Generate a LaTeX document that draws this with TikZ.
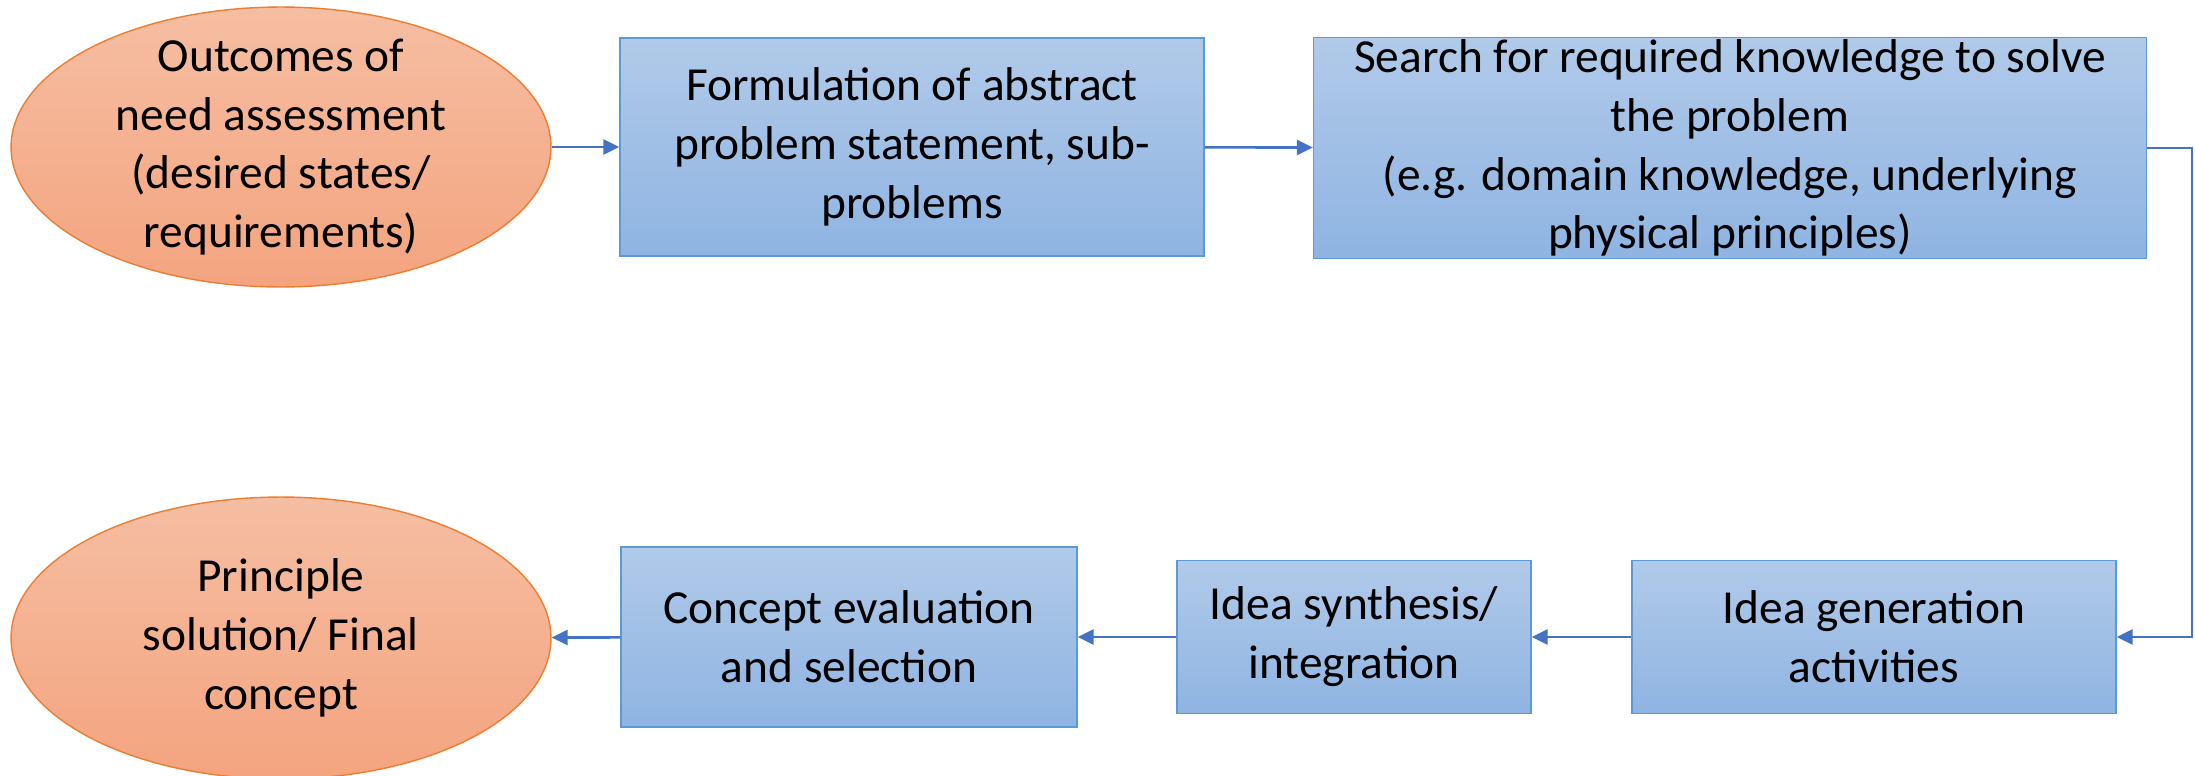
\documentclass[tikz,border=0pt]{standalone}
\usepackage{fontspec}
\setmainfont{Carlito}
\usetikzlibrary{shapes.geometric,arrows.meta}
\definecolor{goalfill}{HTML}{F5BEA2}
\definecolor{goalfillb}{HTML}{F4A47F}
\definecolor{goalline}{HTML}{ED7D31}
\definecolor{stepfill}{HTML}{B1CAE9}
\definecolor{stepfillb}{HTML}{8FB4E2}
\definecolor{stepline}{HTML}{5B9BD5}
\definecolor{flowline}{HTML}{4472C4}
\tikzset{
	goal/.style={ellipse, draw=goalline, line width=0.8pt,
		top color=goalfill, bottom color=goalfillb,
		inner sep=0pt, minimum width=10.8cm},
	stepbox/.style={rectangle, draw=stepline, line width=0.8pt,
		top color=stepfill, bottom color=stepfillb,
		inner sep=0pt, align=center},
	flow/.style={draw=flowline, line width=1.5pt,
		-{Triangle[length=0.32cm,width=0.3cm]}}
}
\begin{document}
\begin{tikzpicture}[x=0.02cm, y=-0.02cm,
		every node/.style={font=\fontsize{27}{33.5}\selectfont}]
		\useasboundingbox (0,0) rectangle (2195,775);
		% top row
		\node[goal, minimum height=5.6cm,
			label={[name=needtext, align=center]center:Outcomes of\\need assessment\\(desired states/\\requirements)}]
			(need) at (281,147) {};
		\node[stepbox, minimum width=11.68cm, minimum height=4.36cm] (formul) at (912,147)
			{Formulation of abstract\\problem statement, sub-\\problems};
		\node[stepbox, minimum width=16.66cm, minimum height=4.42cm] (search) at (1730,148)
			{Search for required knowledge to solve\\the problem\\(e.g. domain knowledge, underlying\\physical principles)};
		% bottom row
		\node[stepbox, minimum width=9.68cm, minimum height=3.06cm] (gen) at (1874,637)
			{Idea generation\\activities};
		\node[stepbox, minimum width=7.08cm, minimum height=3.06cm] (synth) at (1354,637)
			{Idea synthesis/\\integration};
		\node[stepbox, minimum width=9.12cm, minimum height=3.6cm] (eval) at (849,637)
			{Concept evaluation\\and selection};
		\node[goal, minimum height=5.64cm,
			label={[name=finaltext, align=center]center:Principle\\solution/ Final\\concept}]
			(final) at (281,638) {};
		\coordinate (turn) at (2192,148);
		% connectors
		\draw[flow] (need) -- (formul);
		\draw[flow] (formul) -- (search);
		\draw[flow] (search.east) -- (turn) |- (gen.east);
		\draw[flow] (gen) -- (synth);
		\draw[flow] (synth) -- (eval);
		\draw[flow] (eval) -- (final);
	\end{tikzpicture}
\end{document}
